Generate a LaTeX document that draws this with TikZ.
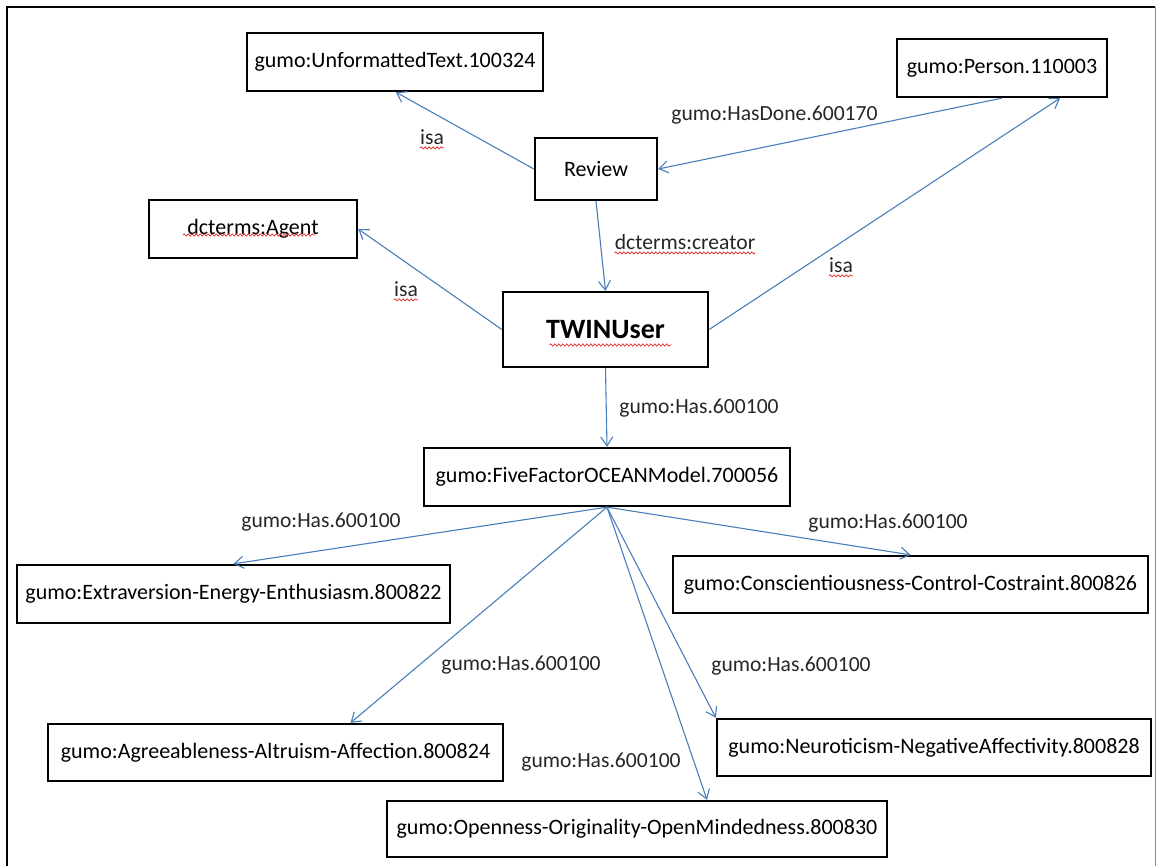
\documentclass[tikz,border=0pt]{standalone}
\usepackage{fontspec}
\setmainfont{Carlito}
\usetikzlibrary{arrows.meta,decorations.pathmorphing,calc}
\definecolor{linkblue}{HTML}{4A7EBB}
\definecolor{spellred}{HTML}{E02828}
\begin{document}
\begin{tikzpicture}[x=1pt,y=-1pt,
  concept/.style={draw=black,line width=2.3pt,inner sep=0pt,align=center,
    font=\fontsize{22}{26}\selectfont},
  link/.style={draw=linkblue,line width=1.1pt,
    -{Straight Barb[length=9pt,width=12pt,line width=1.1pt]}},
  lbl/.style={font=\fontsize{21.6}{26}\selectfont,inner sep=0pt,text=black!85},
  squiggle/.style={draw=spellred,line width=0.7pt,decorate,
    decoration={snake,amplitude=1.1pt,segment length=4pt}}]

\useasboundingbox (0,0) rectangle (1157,866);

% page frame
\draw[line width=2.6pt] (7,866) -- (7,7) -- (1155,7);
\draw[black!45,line width=1pt] (1155,7) -- (1155,866);

% concepts
\node[concept,minimum width=296,minimum height=58] (ut) at (395,62) {gumo:UnformattedText.100324};
\node[concept,minimum width=210,minimum height=58] (person) at (1002,68) {gumo:Person.110003};
\node[concept,minimum width=122,minimum height=62] (review) at (596,169) {Review};
\node[concept,minimum width=208,minimum height=58] (agent) at (253,229) {dcterms:Agent};
\node[concept,minimum width=205,minimum height=75,font=\fontsize{28}{32}\selectfont\bfseries] (twin) at (605.5,329.5) {TWINUser};
\node[concept,minimum width=366,minimum height=58] (five) at (607,477) {gumo:FiveFactorOCEANModel.700056};
\node[concept,minimum width=433,minimum height=58] (ext) at (233.5,594) {gumo:Extraversion-Energy-Enthusiasm.800822};
\node[concept,minimum width=475,minimum height=57] (cons) at (910.5,584.5) {gumo:Conscientiousness-Control-Costraint.800826};
\node[concept,minimum width=455,minimum height=57] (agr) at (275.5,752.5) {gumo:Agreeableness-Altruism-Affection.800824};
\node[concept,minimum width=434,minimum height=57] (neu) at (934,747.5) {gumo:Neuroticism-NegativeAffectivity.800828};
\node[concept,minimum width=500,minimum height=56] (open) at (637,829) {gumo:Openness-Originality-OpenMindedness.800830};

% relations
\draw[link] (review.west) -- ([xshift=150pt]ut.south west);
\draw[link] (person.south) -- (review.east);
\draw[link] (review.south) -- (twin.north);
\draw[link] (twin.west) -- (agent.east);
\draw[link] (twin.east) -- ([xshift=58pt]person.south);
\draw[link] (twin.south) -- (five.north);
\draw[link] (five.south) -- (ext.north);
\draw[link] (five.south) -- (cons.north);
\draw[link] (five.south) -- ([xshift=75pt]agr.north);
\draw[link] (five.south) -- (neu.north west);
\draw[link] (five.south) -- ([xshift=70pt]open.north);

% relation labels
\node[lbl] (isa1) at (432,137) {isa};
\node[lbl] (hasdone) at (774.5,115) {gumo:HasDone.600170};
\node[lbl] (creator) at (685,242) {dcterms:creator};
\node[lbl] (isa2) at (406,289) {isa};
\node[lbl] (isa3) at (841,265) {isa};
\node[lbl] (has1) at (699,408) {gumo:Has.600100};
\node[lbl] (has2) at (321,522) {gumo:Has.600100};
\node[lbl] (has3) at (888,523) {gumo:Has.600100};
\node[lbl] (has4) at (521,665) {gumo:Has.600100};
\node[lbl] (has5) at (791,666) {gumo:Has.600100};
\node[lbl] (has6) at (601,762) {gumo:Has.600100};

% spelling marks
\foreach \w in {isa1,isa2,isa3,creator}
  \draw[squiggle] ([yshift=-3.5pt]\w.base west) -- ([yshift=-3.5pt]\w.base east);
\draw[squiggle] ([xshift=-70pt,yshift=-6pt]agent.center) -- ([xshift=62pt,yshift=-6pt]agent.center);
\draw[squiggle] ([xshift=-56pt,yshift=-15.5pt]twin.center) -- ([xshift=66pt,yshift=-15.5pt]twin.center);
\end{tikzpicture}
\end{document}
